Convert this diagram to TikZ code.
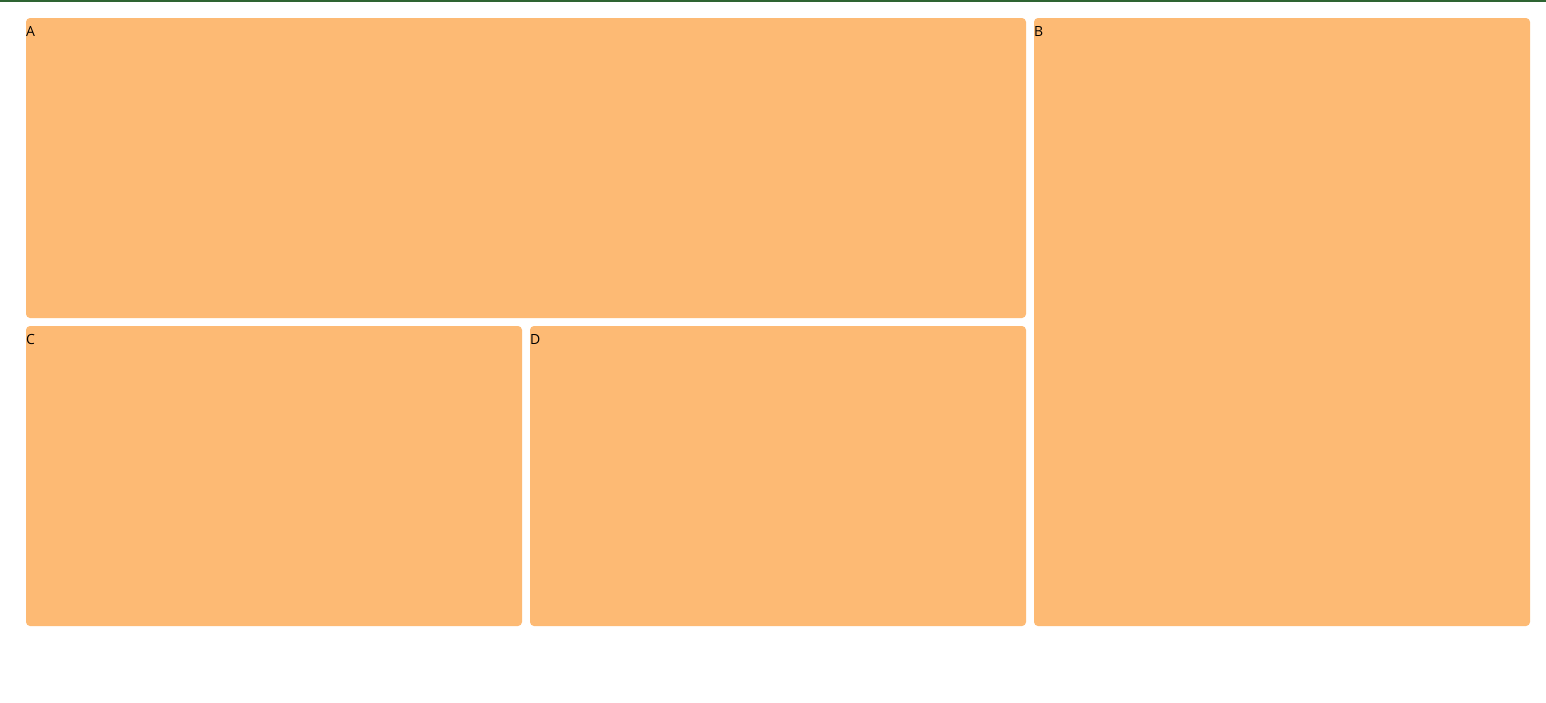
\documentclass[tikz,border=0pt]{standalone}
\usepackage{fontspec}
\setmainfont{Open Sans}
\definecolor{boxfill}{HTML}{FDBA74}
\definecolor{topline}{RGB}{46,100,50}
\begin{document}
\begin{tikzpicture}[x=1pt,y=-1pt,
  panel/.style={fill=boxfill,draw=none,rounded corners=4pt},
  lbl/.style={anchor=base west,inner sep=0pt,font=\fontsize{14}{16}\selectfont,text=black}]
\useasboundingbox[fill=white] (0,0) rectangle (1546,702);
\fill[topline] (0,0) rectangle (1546,2);
\path[panel] (26,18) rectangle (1026,318);
\path[panel] (1034,18) rectangle (1530,626);
\path[panel] (26,326) rectangle (522,626);
\path[panel] (530,326) rectangle (1026,626);
\node[lbl] (la) at (26,36) {A};
\node[lbl] (lb) at (1034,36) {B};
\node[lbl] (lc) at (26,344) {C};
\node[lbl] (ld) at (530,344) {D};
\end{tikzpicture}
\end{document}
